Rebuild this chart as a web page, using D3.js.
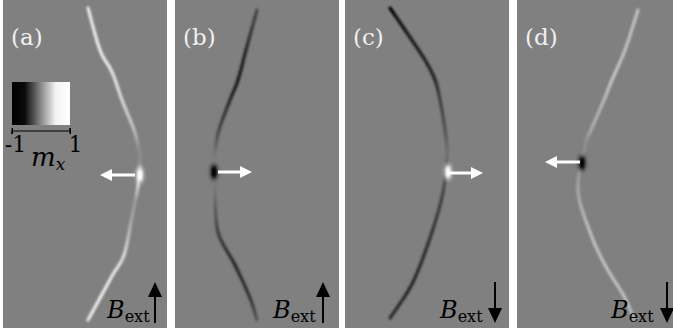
<!DOCTYPE html>
<html>
<head>
<meta charset="utf-8">
<script src="https://cdn.jsdelivr.net/npm/d3@7"></script>
<style>
  body { margin: 0; background: #fff; }
  svg { display: block; }
</style>
</head>
<body>
<script>
const WIDTH = 673
const HEIGHT = 330

// Panel labels and field direction
const labels = ["(a)", "(b)", "(c)", "(d)"]
const fieldDir = ["up", "up", "down", "down"]
const panelLeft = [3, 175, 345, 517]

// Domain wall centre line: [x, y, m_x] in local panel units (0..164, 0..328)
const wallA = [[85, 8, 0.8], [97, 50, 0.85], [109, 72, 0.8], [119, 100, 0.7], [131, 130, 0.5], [136, 150, 0.1], [137, 162, 0.1],
  [135, 186, 0.7], [132, 202, 0.2], [128, 222, 0.3], [121, 255, 0.7], [109, 276, 0.8], [97, 298, 0.85], [85, 320, 0.8]]
const wallB = [[82, 10, -0.4], [71, 50, -0.7], [63, 80, -0.8], [55, 100, -0.7], [44, 130, -0.45], [40, 152, -0.1], [39, 162, 0],
  [40, 190, -0.05], [43, 232, -0.5], [60, 265, -0.7], [75, 298, -0.6], [82, 320, -0.3]]
const wallC = [[45, 8, -1], [60, 30, -0.85], [80, 60, -0.75], [90, 80, -0.7], [95, 100, -0.5], [100, 130, -0.35], [102, 155, -0.1],
  [98, 192, -0.45], [87, 232, -0.6], [68, 282, -0.7], [45, 318, -0.65]]
const wallD = [[121, 10, 0.5], [108, 50, 0.5], [95, 80, 0.55], [87, 100, 0.45], [74, 130, 0.35], [68, 146, 0.1],
  [61, 190, 0.3], [73, 232, 0.5], [88, 265, 0.5], [108, 298, 0.5], [117, 320, 0.4]]
const walls = [wallA, wallB, wallC, wallD]

// Core spot (Bloch line) [x, y, m_x] and motion arrow [x1, x2, y]
const spots = [[137, 175, 1], [39, 172, -1], [103, 172, 1], [65, 163, -1]]
const arrows = [[132, 97, 175], [43, 77, 172], [103, 138, 173], [63, 28, 162]]

const colorbarTicks = [-1, 1]

const svg = d3.select("body").append("svg")
  .attr("width", WIDTH)
  .attr("height", HEIGHT)

const defs = svg.append("defs")
defs.append("filter").attr("id", "blur").attr("x", "-50%").attr("y", "-50%").attr("width", "200%").attr("height", "200%")
  .append("feGaussianBlur").attr("stdDeviation", 1.3)
defs.append("filter").attr("id", "blur2").attr("x", "-100%").attr("y", "-100%").attr("width", "300%").attr("height", "300%")
  .append("feGaussianBlur").attr("stdDeviation", 2.2)

const grad = defs.append("linearGradient").attr("id", "cbar")
const gradStops = [[0, "#000"], [0.22, "#0a0a0a"], [0.5, "#8a8a8a"], [0.75, "#f2f2f2"], [1, "#fff"]]
grad.selectAll("stop").data(gradStops).join("stop")
  .attr("offset", d => d[0]).attr("stop-color", d => d[1])

const gray = d3.scaleLinear().domain([-1, 0, 1]).range(["#000", "#808080", "#fff"])
const yScale = d3.scaleLinear().domain([0, 328]).range([0, 328])

function catmull(p0, p1, p2, p3, t) {
  const t2 = t * t, t3 = t2 * t
  return [0, 1].map(j => 0.5 * ((2 * p1[j]) + (-p0[j] + p2[j]) * t +
    (2 * p0[j] - 5 * p1[j] + 4 * p2[j] - p3[j]) * t2 +
    (-p0[j] + 3 * p1[j] - 3 * p2[j] + p3[j]) * t3))
}

labels.forEach((lab, i) => {
  const xScale = d3.scaleLinear().domain([0, 164]).range([panelLeft[i], panelLeft[i] + 164])
  const g = svg.append("g")

  g.append("rect")
    .attr("x", panelLeft[i]).attr("y", 0)
    .attr("width", 164).attr("height", 328)
    .attr("fill", "#808080")

  // wall: short spline segments coloured by interpolated m_x
  const pts = walls[i].map(d => [xScale(d[0]), yScale(d[1])])
  const segs = []
  for (let k = 0; k < pts.length - 1; k++) {
    const p0 = k > 0 ? pts[k - 1] : pts[k]
    const p3 = k < pts.length - 2 ? pts[k + 2] : pts[k + 1]
    const sub = 8
    const m0 = walls[i][k][2], m1 = walls[i][k + 1][2]
    for (let s = 0; s < sub; s++) {
      const t0 = s / sub, t1 = (s + 1) / sub
      const a = catmull(p0, pts[k], pts[k + 1], p3, t0)
      const b = catmull(p0, pts[k], pts[k + 1], p3, t1)
      segs.push({ a, b, m: m0 + (m1 - m0) * (t0 + t1) / 2 })
    }
  }
  g.append("g").attr("filter", "url(#blur)")
    .selectAll("line").data(segs).join("line")
    .attr("x1", d => d.a[0]).attr("y1", d => d.a[1])
    .attr("x2", d => d.b[0]).attr("y2", d => d.b[1])
    .attr("stroke", d => gray(d.m))
    .attr("stroke-width", 3.2)
    .attr("stroke-linecap", "round")

  const sp = spots[i]
  g.append("ellipse")
    .attr("cx", xScale(sp[0])).attr("cy", yScale(sp[1]))
    .attr("rx", 3).attr("ry", 8)
    .attr("fill", gray(sp[2]))
    .attr("filter", "url(#blur2)")
  g.append("ellipse")
    .attr("cx", xScale(sp[0])).attr("cy", yScale(sp[1]))
    .attr("rx", 1.8).attr("ry", 5)
    .attr("fill", gray(sp[2]))
    .attr("filter", "url(#blur)")

  // motion arrow
  const ar = arrows[i]
  const x1 = xScale(ar[0]), x2 = xScale(ar[1]), ay = yScale(ar[2])
  const dir = Math.sign(x2 - x1)
  g.append("line")
    .attr("x1", x1).attr("y1", ay).attr("x2", x2 - dir * 8).attr("y2", ay)
    .attr("stroke", "#fff").attr("stroke-width", 3)
  g.append("path")
    .attr("d", `M${x2},${ay}L${x2 - dir * 12},${ay - 6}L${x2 - dir * 12},${ay + 6}Z`)
    .attr("fill", "#fff")

  // panel label
  g.append("text")
    .attr("x", xScale(8)).attr("y", 45)
    .attr("font-family", "DejaVu Serif")
    .attr("font-size", 23)
    .attr("fill", "#f0f0f0")
    .text(lab)

  // B_ext label and arrow
  const bx = xScale([104, 98, 95, 94][i])
  const bt = g.append("text")
    .attr("x", bx).attr("y", 318)
    .attr("font-family", "DejaVu Serif")
    .attr("fill", "#000")
  bt.append("tspan").attr("font-size", 24).attr("font-style", "italic").text("B")
  bt.append("tspan").attr("font-size", 16).attr("dy", 4).text("ext")

  const axx = xScale([152, 148, 150, 150][i])
  const up = fieldDir[i] === "up"
  const yTop = 282, yBot = 323
  g.append("line")
    .attr("x1", axx).attr("x2", axx)
    .attr("y1", up ? yTop + 10 : yTop).attr("y2", up ? yBot : yBot - 10)
    .attr("stroke", "#000").attr("stroke-width", 2)
  const tip = up ? yTop : yBot
  const base = up ? yTop + 15 : yBot - 15
  g.append("path")
    .attr("d", `M${axx},${tip}L${axx - 7},${base}L${axx + 7},${base}Z`)
    .attr("fill", "#000")
})

// colour bar in panel (a)
const cb = svg.append("g")
cb.append("rect")
  .attr("x", 12).attr("y", 82).attr("width", 58).attr("height", 43)
  .attr("fill", "url(#cbar)")
const cbScale = d3.scaleLinear().domain([-1, 1]).range([12, 70])
cb.append("g")
  .attr("transform", "translate(0,131)")
  .call(d3.axisBottom(cbScale).tickValues(colorbarTicks).tickSize(4).tickFormat(d => d))
  .call(g => g.select(".domain").attr("d", "M12,-3V3V0H70V-3V3"))
  .call(g => g.selectAll(".tick line").attr("y1", -3).attr("y2", 3))
  .call(g => g.selectAll("text")
    .attr("font-family", "DejaVu Serif").attr("font-size", 22)
    .attr("fill", "#000").attr("y", 21).attr("dy", 0)
    .attr("dx", d => d < 0 ? 3 : 5))
const mx = cb.append("text")
  .attr("x", 31).attr("y", 166)
  .attr("font-family", "DejaVu Serif")
mx.append("tspan").attr("font-size", 26).attr("font-style", "italic").text("m")
mx.append("tspan").attr("font-size", 17).attr("font-style", "italic").attr("dy", 4).text("x")
</script>
</body>
</html>
